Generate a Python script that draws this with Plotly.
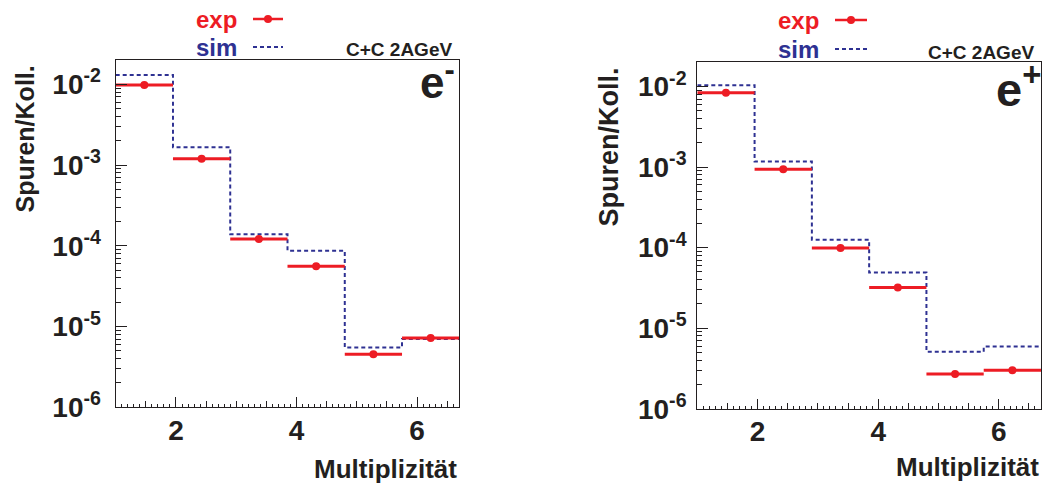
import numpy as np
import plotly.graph_objects as go

# ---------------- data ----------------
bin_edges = [1.0, 1.95, 2.9, 3.85, 4.8, 5.75, 6.7]
exp_eminus = [9.8e-3, 1.20e-3, 1.21e-4, 5.6e-5, 4.55e-6, 7.2e-6]
sim_eminus = [1.30e-2, 1.66e-3, 1.39e-4, 8.7e-5, 5.5e-6, 7.0e-6]
exp_eplus = [8.4e-3, 9.4e-4, 9.9e-5, 3.2e-5, 2.7e-6, 3.0e-6]
sim_eplus = [1.04e-2, 1.17e-3, 1.25e-4, 4.9e-5, 5.1e-6, 5.9e-6]
x_tick_vals = [2, 4, 6]
y_tick_vals = [1e-6, 1e-5, 1e-4, 1e-3, 1e-2]
y_tick_text = ["10<sup>-6</sup>", "10<sup>-5</sup>", "10<sup>-4</sup>",
               "10<sup>-3</sup>", "10<sup>-2</sup>"]
panel_labels = ["e<sup>-</sup>", "e<sup>+</sup>"]
legend_labels = ["exp", "sim"]
system_label = "C+C 2AGeV"

# ---------------- style ----------------
W, H = 1043, 483
RED = "#ed1c24"
BLUE = "#2e3192"
INK = "#231f20"
FONT = "Liberation Sans"
DASH = "4px,3px"

edges = np.array(bin_edges)
centers = 0.5 * (edges[:-1] + edges[1:])
halfw = 0.5 * (edges[1:] - edges[:-1])


def px(x):
    return x / W


def py(y):
    return 1 - y / H


panels = [
    dict(exp=exp_eminus, sim=sim_eminus, label=panel_labels[0],
         xdom=[px(115.7), px(459.3)], ydom=[py(407.3), py(60)],
         xa="x", ya="y", xa_mid="x3",
         leg_text_right=239, leg_line=(253, 283), leg_y=(19, 47),
         sys=(454, 49), lab=(457, 80, 44), ytitle=(25, 64, 25),
         xtitle=(459, 469)),
    dict(exp=exp_eplus, sim=sim_eplus, label=panel_labels[1],
         xdom=[px(697.3), px(1041)], ydom=[py(408.7), py(62.3)],
         xa="x2", ya="y2", xa_mid="x4",
         leg_text_right=821, leg_line=(835, 867), leg_y=(20, 49),
         sys=(1036, 52), lab=(1043, 86, 47), ytitle=(608, 66, 27),
         xtitle=(1041, 467)),
]

fig = go.Figure()

for p in panels:
    # simulation: dashed step histogram
    fig.add_trace(go.Scatter(
        x=edges, y=list(p["sim"]) + [p["sim"][-1]], mode="lines",
        line=dict(color=BLUE, width=2, dash=DASH, shape="hv"),
        xaxis=p["xa"], yaxis=p["ya"], showlegend=False))
    # experiment: points with horizontal bin-width bars
    fig.add_trace(go.Scatter(
        x=centers, y=p["exp"], mode="markers",
        marker=dict(color=RED, size=8),
        error_x=dict(type="data", array=halfw, symmetric=True,
                     color=RED, thickness=3, width=0),
        xaxis=p["xa"], yaxis=p["ya"], showlegend=False))
    # placeholder so the medium-tick overlay axis is drawn
    fig.add_trace(go.Scatter(x=[None], y=[None], xaxis=p["xa_mid"],
                             yaxis=p["ya"], showlegend=False))

mid_ticks = [v for v in np.arange(1.5, 6.7, 0.5) if v not in x_tick_vals]

axis_font = dict(family=FONT, size=28, color=INK, weight="bold")
layout = dict(
    width=W, height=H, autosize=False,
    margin=dict(l=0, r=0, t=0, b=0, pad=0, autoexpand=False),
    paper_bgcolor="white", plot_bgcolor="white",
    font=dict(family=FONT, color=INK), showlegend=False,
)

for i, p in enumerate(panels):
    xk = "xaxis" if i == 0 else "xaxis2"
    yk = "yaxis" if i == 0 else "yaxis2"
    mk = "xaxis3" if i == 0 else "xaxis4"
    layout[xk] = dict(
        domain=p["xdom"], anchor=p["ya"], range=[edges[0], edges[-1]],
        tickmode="array", tickvals=x_tick_vals, ticks="inside",
        ticklen=10, tickwidth=1.2, tickcolor=INK, automargin=False,
        showline=True, mirror=True, linecolor=INK, linewidth=1.3,
        showgrid=False, zeroline=False, tickfont=axis_font,
        ticklabelstandoff=-2,
        minor=dict(tickmode="linear", tick0=0, dtick=0.1, ticks="inside",
                   ticklen=3, tickwidth=1, tickcolor=INK, showgrid=False),
    )
    layout[mk] = dict(
        overlaying=p["xa"], anchor=p["ya"], range=[edges[0], edges[-1]],
        tickmode="array", tickvals=mid_ticks, ticks="inside", ticklen=6,
        tickwidth=1, tickcolor=INK, showticklabels=False, showgrid=False,
        zeroline=False, showline=False, automargin=False,
    )
    layout[yk] = dict(
        domain=p["ydom"], anchor=p["xa"], type="log",
        range=[-6, np.log10(2e-2)], automargin=False,
        tickmode="array", tickvals=y_tick_vals, ticktext=y_tick_text,
        ticks="inside", ticklen=11, tickwidth=1.2, tickcolor=INK,
        showline=True, mirror=True, linecolor=INK, linewidth=1.3,
        showgrid=False, zeroline=False, tickfont=axis_font,
        ticklabelstandoff=8 if i == 0 else 4,
        minor=dict(dtick="D1", ticks="inside", ticklen=5, tickwidth=1,
                   tickcolor=INK, showgrid=False),
    )

fig.update_layout(**layout)


def ann(text, x, y, size, color=INK, xanchor="center", yanchor="middle",
        angle=0):
    fig.add_annotation(text=text, x=px(x), y=py(y), xref="paper",
                       yref="paper", showarrow=False, xanchor=xanchor,
                       yanchor=yanchor, textangle=angle,
                       font=dict(family=FONT, size=size, color=color,
                                 weight="bold"))


for p in panels:
    # legend (text left of the sample, as in the original)
    x0, x1 = p["leg_line"]
    ye, ys = p["leg_y"]
    ann(legend_labels[0], p["leg_text_right"], ye, 24, RED, xanchor="right")
    ann(legend_labels[1], p["leg_text_right"], ys, 24, BLUE, xanchor="right")
    fig.add_shape(type="line", xref="paper", yref="paper",
                  x0=px(x0), x1=px(x1), y0=py(ye), y1=py(ye),
                  line=dict(color=RED, width=2.5))
    xm = 0.5 * (x0 + x1)
    fig.add_shape(type="circle", xref="paper", yref="paper",
                  x0=px(xm - 4), x1=px(xm + 4), y0=py(ye + 4), y1=py(ye - 4),
                  line=dict(color=RED, width=0), fillcolor=RED)
    fig.add_shape(type="line", xref="paper", yref="paper",
                  x0=px(x0), x1=px(x1), y0=py(ys), y1=py(ys),
                  line=dict(color=BLUE, width=2, dash=DASH))
    # other texts
    ann(system_label, p["sys"][0], p["sys"][1], 19, xanchor="right")
    ann(p["label"], p["lab"][0], p["lab"][1], p["lab"][2], xanchor="right")
    ann("Spuren/Koll.", p["ytitle"][0], p["ytitle"][1], p["ytitle"][2],
        yanchor="top", angle=-90)
    ann("Multiplizität", p["xtitle"][0], p["xtitle"][1], 26,
        xanchor="right")

fig.write_html("out.html", config={"displayModeBar": False},
               post_script="document.body.style.margin='0';"
                           "document.body.style.overflow='hidden';")
